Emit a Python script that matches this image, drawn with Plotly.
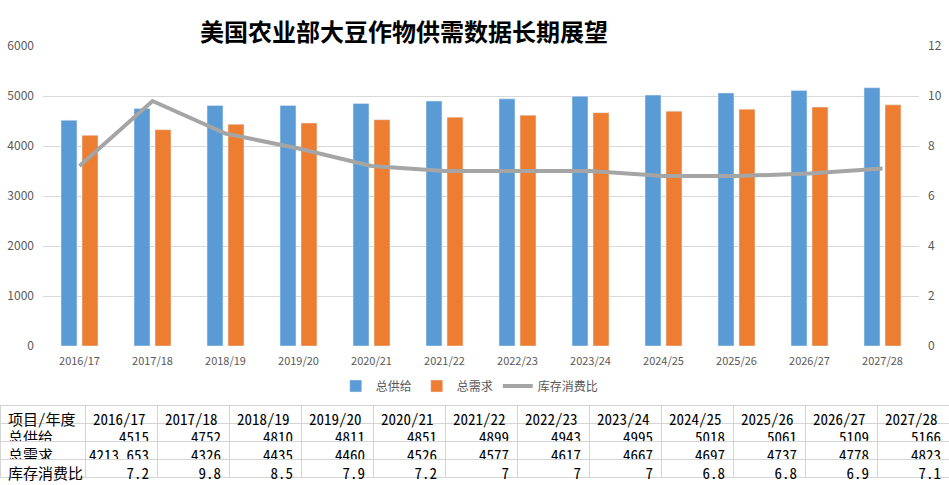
import plotly.graph_objects as go

years = ["2016/17", "2017/18", "2018/19", "2019/20", "2020/21", "2021/22",
         "2022/23", "2023/24", "2024/25", "2025/26", "2026/27", "2027/28"]
supply = [4515, 4752, 4810, 4811, 4851, 4899, 4943, 4995, 5018, 5061, 5109, 5166]
demand = [4213.653, 4326, 4435, 4460, 4526, 4577, 4617, 4667, 4697, 4737, 4778, 4823]
ratio = [7.2, 9.8, 8.5, 7.9, 7.2, 7, 7, 7, 6.8, 6.8, 6.9, 7.1]
demand_txt = ["4213.653", "4326", "4435", "4460", "4526", "4577", "4617", "4667", "4697", "4737", "4778", "4823"]

title = "美国农业部大豆作物供需数据长期展望"
row_labels = ["总供给", "总需求", "库存消费比"]
header_label = "项目/年度"

W, H = 949, 485
BLUE = "#5B9BD5"
ORANGE = "#ED7D31"
GRAY = "#A5A5A5"
TXT = "#595959"
FONT = "Noto Sans CJK SC, Microsoft YaHei, sans-serif"
TFONT = "Noto Sans Mono CJK SC, DejaVu Sans Mono, Noto Sans CJK SC, monospace"

fig = go.Figure()
fig.add_trace(go.Bar(x=years, y=supply, name="总供给", marker_color=BLUE, xaxis="x", yaxis="y"))
fig.add_trace(go.Bar(x=years, y=demand, name="总需求", marker_color=ORANGE, xaxis="x", yaxis="y"))
fig.add_trace(go.Scatter(x=years, y=ratio, name="库存消费比", mode="lines",
                         line=dict(color=GRAY, width=4), xaxis="x", yaxis="y2"))

def fmt(v):
    return f"{v:g}"

cells = [row_labels] + [[str(s), d, fmt(r)] for s, d, r in zip(supply, demand_txt, ratio)]
fig.add_trace(go.Table(
    domain=dict(x=[0, 1], y=[0, (H - 405.5) / H]),
    columnwidth=[85] + [72] * 12,
    header=dict(values=[header_label] + years, align="left", height=18,
                fill_color="white", line=dict(color="#D4D4D4", width=1),
                font=dict(family=TFONT, size=15, color="black")),
    cells=dict(values=cells, align=["left"] + ["right"] * 12, height=18,
               fill_color="white", line=dict(color="#D4D4D4", width=1),
               font=dict(family=TFONT, size=15, color="black")),
))

x0, x1 = 43 / W, 919 / W
y0, y1 = (H - 346) / H, (H - 46) / H

fig.update_layout(
    width=W, height=H,
    margin=dict(l=0, r=0, t=0, b=0, autoexpand=False),
    paper_bgcolor="white", plot_bgcolor="white",
    font=dict(family=FONT, color=TXT),
    barmode="group", bargap=0.425, bargroupgap=0.24,
    showlegend=True,
    legend=dict(orientation="h", x=0.495, xanchor="center", y=(H - 386) / H, yanchor="middle",
                font=dict(size=12, color=TXT), traceorder="normal"),
    xaxis=dict(domain=[x0, x1], showgrid=False, tickfont=dict(size=11, color=TXT),
               ticks="", showline=False, automargin=False, ticklabelstandoff=7),
    yaxis=dict(domain=[y0, y1], range=[0, 6000], dtick=1000, showgrid=True,
               gridcolor="#D9D9D9", gridwidth=1, zeroline=False, automargin=False,
               tickfont=dict(size=12, color=TXT), ticklabelstandoff=8),
    yaxis2=dict(overlaying="y", side="right", range=[0, 12], dtick=2, showgrid=False,
                zeroline=False, tickfont=dict(size=12, color=TXT), anchor="x",
                ticklabelstandoff=8, automargin=False),
    annotations=[dict(text=title, x=404 / W, y=(H - 30) / H, xref="paper", yref="paper",
                      xanchor="center", yanchor="middle", showarrow=False,
                      font=dict(family=FONT, size=24, color="black", weight="bold"))],
)

fig.write_html("out.html", config={"displayModeBar": False},
               post_script="document.body.style.margin='0';document.body.style.overflow='hidden';")
